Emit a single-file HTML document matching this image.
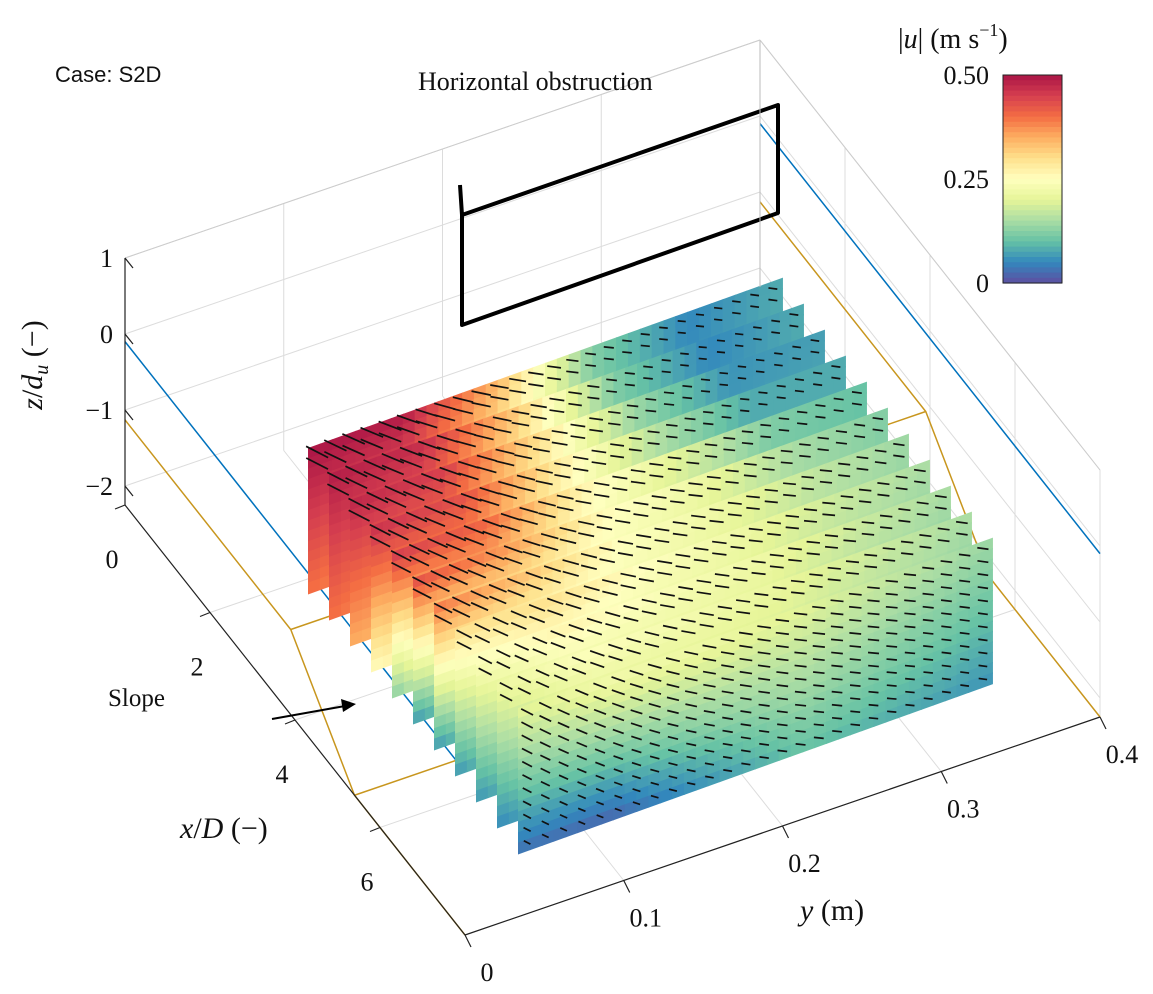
<!DOCTYPE html>
<html><head><meta charset="utf-8"><style>
html,body{margin:0;padding:0;background:#fff}
svg{display:block}
text{font-family:"Liberation Serif",serif;fill:#111}
</style></head><body>
<svg id="chart" width="1153" height="994" viewBox="0 0 1153 994" xmlns="http://www.w3.org/2000/svg">
<g id="grid"></g>
<g id="bathy"></g>
<g id="obst">
 <polyline points="460,185 462,215 462,325 778,213 778,105 462,215" fill="none" stroke="#000" stroke-width="4" stroke-linejoin="round"/>
</g>
<g id="slices"></g>
<g id="axes"></g>
<text x="55" y="82" font-size="22" style="font-family:'Liberation Sans',sans-serif">Case: S2D</text>
<text x="418" y="90" font-size="26">Horizontal obstruction</text>
<text x="108" y="706" font-size="25">Slope</text>
<g><line x1="272" y1="719" x2="345" y2="706" stroke="#000" stroke-width="2"/><polygon points="356,704 341,699 343,712" fill="#000"/></g>
<text transform="translate(42,365) rotate(-90)" text-anchor="middle" font-size="30"><tspan font-style="italic">z</tspan>/<tspan font-style="italic">d<tspan font-size="20" dy="6">u</tspan></tspan><tspan dy="-6"> (−)</tspan></text>
<text x="180" y="838" font-size="30"><tspan font-style="italic">x</tspan>/<tspan font-style="italic">D</tspan> (−)</text>
<text x="800" y="920" font-size="30"><tspan font-style="italic">y</tspan> (m)</text>
<g id="cbar"></g>
<text x="898" y="48" font-size="28">|<tspan font-style="italic">u</tspan>| (m s<tspan font-size="18" dy="-12">−1</tspan><tspan dy="12">)</tspan></text>
</svg>
<script>
// ---- data ----
const xTicks = [0, 2, 4, 6];
const yTicks = [0, 0.1, 0.2, 0.3, 0.4];
const yTickLabels = ["0", "0.1", "0.2", "0.3", "0.4"];
const zTicks = [1, 0, -1, -2];
const zTickLabels = ["1", "0", "−1", "−2"];
const cbarTicks = [0, 0.25, 0.5];
const cbarTickLabels = ["0", "0.25", "0.50"];
const waterLevel = -0.1;
const bedX = [0, 3.9, 5.4, 8];
const bedZ = [-1.13, -1.13, -2.25, -2.25];
const speedTop = [
 [.5,.49,.34,.12,.05,.08],[.49,.47,.32,.12,.05,.08],[.48,.45,.3,.14,.06,.07],
 [.47,.43,.28,.16,.08,.08],[.46,.41,.27,.2,.12,.1],[.44,.37,.26,.22,.15,.12],
 [.4,.33,.25,.22,.17,.14],[.3,.3,.25,.22,.18,.15],[.25,.27,.24,.22,.18,.15],
 [.22,.25,.23,.21,.18,.15],[.2,.23,.22,.2,.17,.14]];
const speedBottom = [
 [.4,.35,.25,.12,.06,.08],[.4,.35,.25,.12,.06,.08],[.35,.33,.24,.13,.07,.08],
 [.25,.3,.23,.14,.08,.08],[.12,.25,.22,.16,.1,.1],[.06,.15,.2,.18,.14,.12],
 [.06,.15,.2,.18,.14,.12],[.06,.14,.18,.17,.13,.11],[.06,.12,.16,.16,.12,.1],
 [.05,.1,.14,.15,.12,.1],[.03,.02,.06,.1,.08,.06]];
const quiverAngle = [28, 20, 10, 6, 5, 8]; // degrees per column (screen, downward +)

// ---- projection ----
const O=[125,505], EX=[42.5,53.75], EY=[158.75,-54.5], EZ=76, ZMIN=-2.25;
function P(x,y,z){return [O[0]+x*EX[0]+(y/0.1)*EY[0], O[1]+x*EX[1]+(y/0.1)*EY[1]-EZ*(z-ZMIN)];}
const NS="http://www.w3.org/2000/svg";
function mk(tag,attrs,parent){const e=document.createElementNS(NS,tag);for(const k in attrs)e.setAttribute(k,attrs[k]);parent.appendChild(e);return e;}
function line(g,a,b,st,w){return mk('line',{x1:a[0],y1:a[1],x2:b[0],y2:b[1],stroke:st,'stroke-width':w||1},g);}

const cm=[[94,79,162],[50,136,189],[102,194,165],[171,221,164],[230,245,152],[255,255,191],[254,224,139],[253,174,97],[244,109,67],[213,62,79],[170,20,70]];
function color(v){let t=Math.max(0,Math.min(1,v/0.5))*10;const i=Math.min(9,Math.floor(t)),f=t-i;const a=cm[i],b=cm[i+1];return `rgb(${Math.round(a[0]+(b[0]-a[0])*f)},${Math.round(a[1]+(b[1]-a[1])*f)},${Math.round(a[2]+(b[2]-a[2])*f)})`;}

// ---- grid ----
const grid=document.getElementById('grid'), gc='#dcdcdc';
[-2,-1,0,1].forEach(z=>{line(grid,P(0,0,z),P(0,0.4,z),gc);line(grid,P(0,0.4,z),P(8,0.4,z),gc);});
[0.1,0.2,0.3,0.4].forEach(y=>{line(grid,P(0,y,ZMIN),P(0,y,1),gc);line(grid,P(0,y,ZMIN),P(8,y,ZMIN),gc);});
[2,4,6,8].forEach(x=>{line(grid,P(x,0.4,ZMIN),P(x,0.4,1),gc);line(grid,P(x,0,ZMIN),P(x,0.4,ZMIN),gc);});

// ---- bathymetry ----
const bathy=document.getElementById('bathy');
[0,0.4].forEach(y=>{
 const w=mk('line',{x1:P(0,y,waterLevel)[0],y1:P(0,y,waterLevel)[1],x2:P(8,y,waterLevel)[0],y2:P(8,y,waterLevel)[1],stroke:'#0072bd','stroke-width':1.5},bathy);
 
 
 const pts=bedX.map((x,i)=>P(x,y,bedZ[i]).join(',')).join(' ');
 const b=mk('polyline',{points:pts,fill:'none',stroke:'#c8961e','stroke-width':1.5},bathy);
 
 
});
[1,2].forEach(i=>line(bathy,P(bedX[i],0,bedZ[i]),P(bedX[i],0.4,bedZ[i]),'#c8961e',1.5));

// ---- slices ----
const sl=document.getElementById('slices');
const T=[474,-170], H=145;
function bil(i,u,v){const n=5,c=u*n,j=Math.min(n-1,Math.floor(c)),f=c-j;
 const top=speedTop[i][j]+(speedTop[i][j+1]-speedTop[i][j])*f;
 const bot=speedBottom[i][j]+(speedBottom[i][j+1]-speedBottom[i][j])*f;return top+(bot-top)*v;}
function SP(i,u,v){return [308+21*i+u*T[0], 448+26*i+u*T[1]+v*H];}
const NU=40,NV=14;
for(let i=0;i<speedTop.length;i++){
 const g=mk('g',{},sl);
 
 
 for(let a=0;a<NU;a++)for(let b=0;b<NV;b++){
  const u0=a/NU,u1=(a+1)/NU,v0=b/NV,v1=(b+1)/NV;
  const pts=[SP(i,u0,v0),SP(i,u1+0.002,v0),SP(i,u1+0.002,v1+0.01),SP(i,u0,v1+0.01)].map(p=>p.join(',')).join(' ');
  mk('polygon',{points:pts,fill:color(bil(i,(u0+u1)/2,(v0+v1)/2))},g);
 }
 const q=mk('g',{stroke:'#111','stroke-width':1.7},g);
 
 
 const last=i===speedTop.length-1;
 const vs=last?[0.05,0.14,0.23,0.32,0.41,0.5,0.59,0.68,0.77,0.86,0.95]:[0.05,0.13];
 for(const v of vs)for(let a=0;a<26;a++){
  const u=(a+0.5)/26, s=bil(i,u,v), p=SP(i,u,v);
  const c=u*5,j=Math.min(4,Math.floor(c)),f=c-j;
  const ang=(quiverAngle[j]+(quiverAngle[j+1]-quiverAngle[j])*f)*Math.PI/180;
  const L=6+38*s, dx=Math.cos(ang)*L/2, dy=Math.sin(ang)*L/2;
  mk('line',{x1:p[0]-dx,y1:p[1]-dy,x2:p[0]+dx,y2:p[1]+dy},q);
 }
}

// ---- axes ----
const ax=document.getElementById('axes');
line(ax,P(0,0,1),P(0,0,ZMIN),'#222',1.2);
line(ax,P(0,0,ZMIN),P(8,0,ZMIN),'#222',1.2);
line(ax,P(8,0,ZMIN),P(8,0.4,ZMIN),'#222',1.2);
line(ax,P(0,0.4,1),P(0,0.4,ZMIN),'#bbb',1);
line(ax,P(0,0,1),P(0,0.4,1),'#ccc',1);
line(ax,P(0,0.4,1),P(8,0.4,1),'#ccc',1);
zTicks.forEach((z,k)=>{const p=P(0,0,z);line(ax,p,[p[0]+8,p[1]+10],'#222',1.2);
 const t=mk('text',{x:p[0]-12,y:p[1]+9,'text-anchor':'end','font-size':26},ax);t.textContent=zTickLabels[k];
 
 });
xTicks.forEach(x=>{const p=P(x,0,ZMIN);line(ax,p,[p[0]-10,p[1]+4],'#222',1.2);
 const t=mk('text',{x:p[0]-13,y:p[1]+63,'text-anchor':'middle','font-size':26},ax);t.textContent=String(x);
 
 });
yTicks.forEach((y,k)=>{const p=P(8,y,ZMIN);line(ax,p,[p[0]+6,p[1]+12],'#222',1.2);
 const t=mk('text',{x:p[0]+22,y:p[1]+46,'text-anchor':'middle','font-size':26},ax);t.textContent=yTickLabels[k];
 
 });

// ---- colorbar ----
const cb=document.getElementById('cbar');
const CB={x:1003,y:75,w:59,h:208};
for(let k=0;k<40;k++){const v0=0.5*(1-k/40);
 mk('rect',{x:CB.x,y:CB.y+k*CB.h/40,width:CB.w,height:CB.h/40+0.6,fill:color(v0-0.00625)},cb);}
mk('rect',{x:CB.x,y:CB.y,width:CB.w,height:CB.h,fill:'none',stroke:'#222','stroke-width':1},cb);
cbarTicks.forEach((v,k)=>{const y=CB.y+CB.h*(1-v/0.5);
 const t=mk('text',{x:CB.x-14,y:y+9,'text-anchor':'end','font-size':26},cb);t.textContent=cbarTickLabels[k];
 
 });
</script>
</body></html>
